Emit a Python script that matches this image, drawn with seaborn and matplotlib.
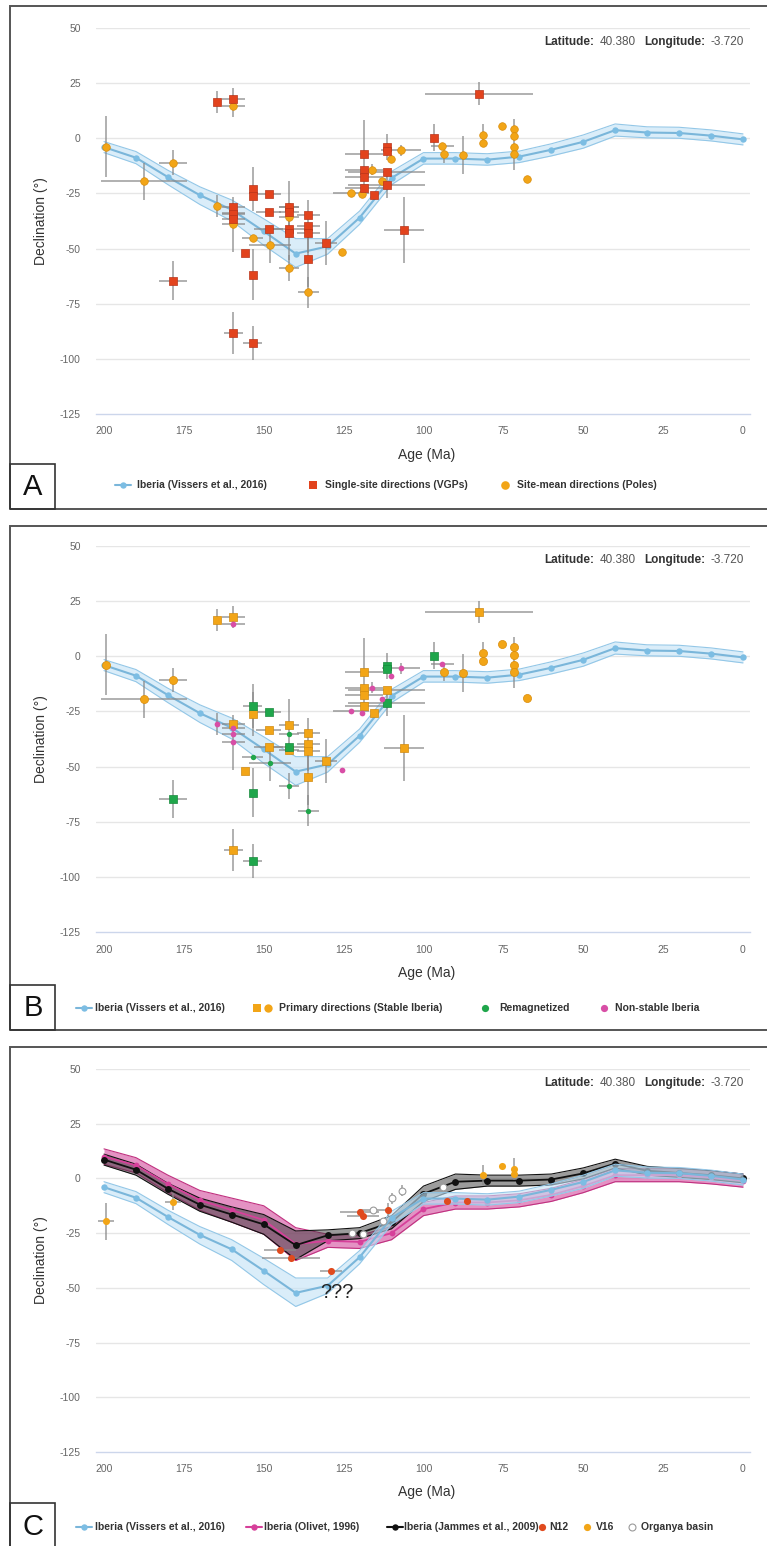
import matplotlib
matplotlib.use("Agg")
import pandas as pd
import matplotlib.pyplot as plt
import seaborn as sns
from matplotlib.lines import Line2D
from matplotlib.patches import Rectangle

# ---------------------------------------------------------------- curves
curve_age = [200, 190, 180, 170, 160, 150, 140, 130, 120, 110, 100,
             90, 80, 70, 60, 50, 40, 30, 20, 10, 0]

vissers_dec = [-4.0, -8.8, -17.6, -25.8, -32.4, -42.2, -52.3, -49.0, -36.0, -18.0, -9.2,
               -9.2, -9.7, -8.3, -5.2, -1.6, 3.7, 2.6, 2.4, 1.2, -0.5]
vissers_lo = [-6.5, -11.5, -21.0, -30.0, -37.5, -48.5, -58.5, -52.5, -39.0, -21.0, -11.7,
              -11.7, -12.2, -11.0, -8.0, -4.5, 1.0, 0.2, 0.0, -1.2, -3.0]
vissers_hi = [-1.5, -6.0, -14.5, -22.0, -28.0, -36.5, -45.5, -45.5, -33.0, -15.0, -6.5,
              -6.5, -7.0, -5.8, -2.5, 1.5, 6.5, 5.2, 5.0, 3.8, 2.0]

olivet_dec = [10.0, 6.0, -2.5, -10.0, -14.5, -19.0, -30.0, -28.5, -29.0, -25.0, -14.0,
              -11.0, -11.0, -10.0, -7.5, -3.5, 1.5, 1.5, 1.5, 0.5, -1.0]
olivet_half = [3.5, 3.5, 4.0, 4.5, 5.5, 6.5, 7.5, 3.0, 3.0, 3.0, 3.0,
               3.0, 3.0, 3.0, 3.0, 3.0, 3.0, 3.0, 3.0, 3.0, 3.0]

jammes_dec = [8.6, 4.0, -4.7, -12.0, -16.5, -21.0, -30.5, -26.0, -25.0, -20.0, -7.0,
              -1.5, -1.0, -1.0, -0.5, 2.3, 6.8, 3.5, 2.5, 1.5, 0.0]
jammes_half = [2.5, 2.5, 2.5, 3.0, 3.5, 4.5, 6.5, 2.5, 2.5, 3.0, 3.5,
               3.5, 2.5, 2.5, 2.5, 2.5, 2.0, 2.0, 2.0, 2.0, 2.0]

# ------------------------------------------- panel A: single-site VGPs
vgp_age = [164.5, 159.5, 159.5, 159.5, 159.5, 178.5, 153.5, 153.5, 153.5, 153.5,
           155.8, 159.5, 148.5, 148.5, 148.5, 142.1, 142.1, 142.1, 142.1, 136.0,
           136.0, 136.0, 136.0, 130.6, 118.6, 118.6, 118.6, 118.6, 115.6, 111.5,
           111.5, 111.5, 111.5, 106.2, 96.6, 82.6]
vgp_dec = [16.5, 17.7, -31.2, -34.2, -36.4, -64.6, -22.8, -26.3, -61.9, -92.7,
           -52.0, -88.2, -25.4, -33.4, -41.3, -31.2, -33.4, -41.0, -43.0, -35.0,
           -39.8, -43.0, -54.6, -47.3, -7.3, -14.2, -17.5, -22.4, -25.9, -4.0,
           -5.7, -15.3, -21.0, -41.7, 0.3, 20.3]
vgp_age_err = [0, 3.5, 3.5, 3.5, 3.5, 4.4, 0, 0, 0, 3,
               0, 3, 4, 4, 4.5, 3, 3, 5, 0, 3.5,
               3.5, 3.5, 0, 3.4, 6, 6, 6, 6, 0, 0,
               0, 12, 12, 6.3, 0, 17]
vgp_dec_err = [5, 5, 0, 0, 0, 8.8, 10, 0, 11.6, 7.6,
               0, 9.6, 0, 0, 0, 0, 0, 0, 12, 0,
               12, 0, 13, 10, 15.5, 0, 0, 0, 0, 6,
               0, 0, 6, 15, 6, 5]

# ------------------------------------------- panel A: site-mean poles
pole_age = [199.5, 187.5, 178.5, 164.5, 159.5, 159.5, 159.5, 153.5, 148.0, 142.1,
            142.1, 142.1, 136.0, 125.6, 122.7, 119.1, 116.1, 113.1, 110.2, 107.1,
            94.1, 93.5, 87.6, 81.5, 81.5, 75.4, 71.7, 71.7, 71.7, 71.7, 67.6]
pole_dec = [-3.9, -19.5, -11.0, -30.9, 14.5, -33.9, -39.0, -45.2, -48.5, -31.2,
            -35.7, -58.8, -69.9, -51.7, -24.8, -25.4, -14.2, -19.5, -9.2, -5.4,
            -3.6, -7.0, -7.7, 1.3, -2.0, 5.6, 4.1, 0.9, -3.9, -7.3, -18.6]
pole_age_err = [0, 13.4, 4.4, 0, 3.5, 3.5, 3.5, 3.2, 6.5, 3,
                3, 3, 3.3, 0, 5.5, 0, 0, 0, 0, 6.2,
                3.5, 0, 0, 0, 0, 0, 0, 0, 0, 0, 0]
pole_dec_err = [13.8, 8.3, 5.5, 5, 5, 0, 12.5, 0, 8, 12,
                0, 6, 7, 0, 0, 0, 2.5, 0, 0, 2.5,
                0, 4, 8.6, 5, 0, 0, 4.5, 0, 0, 7, 0]

# ------------------------------------------- panel B: primary (stable Iberia)
prim_sq_age = [164.5, 159.5, 159.5, 153.5, 155.8, 159.5, 148.5, 148.5, 142.1, 142.1,
               136.0, 136.0, 136.0, 136.0, 130.6, 118.6, 118.6, 118.6, 118.6, 115.6,
               111.5, 106.2, 82.6]
prim_sq_dec = [16.5, 17.7, -30.7, -26.3, -52.0, -87.9, -33.4, -41.3, -31.2, -42.5,
               -34.9, -39.8, -42.8, -54.6, -47.3, -7.3, -14.5, -17.6, -22.5, -25.9,
               -15.3, -41.7, 20.1]
prim_sq_age_err = [0, 3.5, 3.5, 0, 0, 3, 4, 4.5, 3, 3,
                   3.5, 3.5, 3.5, 0, 3.4, 6, 6, 6, 6, 0,
                   12, 6.3, 17]
prim_sq_dec_err = [5, 5, 0, 10, 0, 9.6, 0, 0, 12, 0,
                   0, 12, 0, 13, 10, 15.5, 0, 0, 0, 0,
                   0, 15, 5]

prim_ci_age = [199.5, 187.5, 178.5, 93.5, 87.6, 81.5, 81.5, 75.4, 71.7, 71.7, 71.7, 71.7, 67.6]
prim_ci_dec = [-3.9, -19.5, -10.8, -7.0, -7.7, 1.3, -2.0, 5.6, 4.4, 0.8, -4.0, -7.3, -18.8]
prim_ci_age_err = [0, 13.4, 4.4, 0, 0, 0, 0, 0, 0, 0, 0, 0, 0]
prim_ci_dec_err = [13.8, 8.3, 5.5, 4, 8.6, 5, 0, 0, 4.5, 0, 0, 7, 0]

# ------------------------------------------- panel B: remagnetized
remag_sq_age = [178.5, 153.5, 153.5, 153.5, 148.5, 142.1, 111.5, 111.5, 111.5, 96.6]
remag_sq_dec = [-64.7, -22.5, -61.8, -92.7, -25.4, -41.0, -4.4, -5.8, -21.0, 0.3]
remag_sq_age_err = [4.4, 3, 0, 3, 4, 5, 0, 0, 12, 0]
remag_sq_dec_err = [8.8, 10, 11, 7.6, 0, 0, 6, 0, 6, 6]

remag_ci_age = [153.5, 148.0, 142.1, 142.1, 136.0]
remag_ci_dec = [-45.5, -48.5, -35.4, -58.8, -70.0]
remag_ci_age_err = [3.2, 6.5, 3, 3, 3.3]
remag_ci_dec_err = [0, 8, 0, 6, 7]

# ------------------------------------------- panel B: non-stable Iberia
nonst_age = [159.5, 164.5, 159.5, 159.5, 159.5, 125.6, 122.7, 119.1, 116.1, 113.1,
             110.2, 107.1, 94.1]
nonst_dec = [14.6, -30.9, -32.7, -35.2, -39.0, -51.7, -24.8, -25.6, -14.2, -19.5,
             -8.9, -5.5, -3.6]
nonst_age_err = [3.5, 0, 3.5, 3.5, 3.5, 0, 5.5, 0, 0, 0, 0, 6, 3.5]
nonst_dec_err = [0, 5, 0, 0, 12.5, 0, 0, 0, 2.5, 0, 0, 2.5, 0]

# ------------------------------------------- panel C: other datasets
n12_age = [145.0, 141.5, 129.0, 120.0, 119.0, 111.0, 92.5, 86.5]
n12_dec = [-32.5, -36.5, -42.5, -15.2, -17.2, -14.3, -10.2, -10.2]
n12_age_err = [5, 9, 3.5, 6, 5, 0, 0, 0]
n12_dec_err = [0, 0, 0, 0, 0, 3, 0, 0]

v16_age = [199.5, 178.5, 81.5, 75.5, 71.7, 71.7]
v16_dec = [-19.6, -10.6, 1.5, 5.5, 4.5, 2.0]
v16_age_err = [2.5, 2.5, 0, 0, 0, 0]
v16_dec_err = [8.5, 4, 4.5, 0, 5, 0]

organya_age = [122.3, 118.8, 115.7, 112.7, 109.7, 106.7, 93.8]
organya_dec = [-25.0, -25.6, -14.5, -19.6, -9.0, -5.6, -4.1]
organya_age_err = [0, 0, 4.5, 0, 0, 0, 0]
organya_dec_err = [0, 0, 0, 0, 2.5, 2.5, 0]

y_ticks = [50, 25, 0, -25, -50, -75, -100, -125]
x_ticks = [200, 175, 150, 125, 100, 75, 50, 25, 0]

# ---------------------------------------------------------------- style
sns.set_theme(style="white")
plt.rcParams["font.family"] = ["Liberation Sans", "DejaVu Sans"]

W, H = 767, 1546
fig = plt.figure(figsize=(W / 100, H / 100), dpi=100)

BLUE = "#7cbde3"
RED = "#e2431d"
ORANGE = "#f2a517"
GREEN = "#1fa64b"
PINK = "#d84ea6"
ERR = "#8a8a8a"
LEG_FS = 7.5


def fxy(x, y):
    return x / W, 1 - y / H


def add_axes_px(left, top, right, bottom):
    return fig.add_axes([left / W, 1 - bottom / H, (right - left) / W, (bottom - top) / H])


def style_axes(ax):
    ax.set_xlim(202.5, -2.2)
    ax.set_ylim(-125, 50)
    ax.set_yticks(y_ticks)
    ax.set_xticks(x_ticks)
    ax.set_xticklabels([str(t) for t in x_ticks])
    ax.set_yticklabels([str(t) for t in y_ticks])
    ax.set_facecolor("none")
    ax.grid(False)
    for t in y_ticks[:-1]:
        ax.axhline(t, color="#e6e6e6", lw=1.0, zorder=0)
    for s in ["top", "right", "left"]:
        ax.spines[s].set_visible(False)
    ax.spines["bottom"].set_color("#ccd6eb")
    ax.spines["bottom"].set_linewidth(1.0)
    ax.tick_params(axis="x", length=5, width=1, color="#ccd6eb",
                   labelcolor="#666666", labelsize=7.5, pad=4)
    ax.tick_params(axis="y", length=0, labelcolor="#666666", labelsize=7.5, pad=11)
    ax.set_xlabel("Age (Ma)", fontsize=10, color="#333333")
    ax.set_ylabel("Declination (°)", fontsize=10, color="#333333")
    ax.xaxis.set_label_coords(0.505, -0.087)
    ax.yaxis.set_label_coords(-0.074, 0.5)
    # coordinates box
    t = ax.text(1 - 6 / 654, 1 - 14 / 386, "-3.720", transform=ax.transAxes,
                ha="right", va="center", fontsize=8.5, color="#555555")
    parts = [("Longitude:", "bold", "#333333", -4),
             ("40.380", "normal", "#555555", -6),
             ("Latitude:", "bold", "#333333", -4)]
    for txt, wt, col, off in parts:
        t = ax.annotate(txt, xy=(0, 0.5), xycoords=t, xytext=(off, 0),
                        textcoords="offset points", ha="right", va="center",
                        fontsize=8.5, fontweight=wt, color=col)


def draw_band(ax, lo, hi, fill, edge, alpha, z):
    ax.fill_between(curve_age, lo, hi, color=fill, alpha=alpha, lw=0, zorder=z)
    ax.plot(curve_age, lo, color=edge, lw=0.8, zorder=z + 0.05)
    ax.plot(curve_age, hi, color=edge, lw=0.8, zorder=z + 0.05)


def draw_vissers(ax, z=1.5):
    draw_band(ax, vissers_lo, vissers_hi, "#c4e2f6", "#93c7e7", 0.62, z)
    sns.lineplot(x=curve_age, y=vissers_dec, ax=ax, color="#7ab6da", lw=1.5,
                 marker="o", markersize=4.6, markeredgewidth=0,
                 markerfacecolor=BLUE, zorder=z + 0.2)


def draw_points(ax, age, dec, xerr, yerr, marker, size, color, ec, lw=0.5, z=4):
    df = pd.DataFrame({"age": age, "dec": dec, "xerr": xerr, "yerr": yerr})
    ax.errorbar(df["age"], df["dec"], xerr=df["xerr"], yerr=df["yerr"], fmt="none",
                ecolor=ERR, elinewidth=1.1, alpha=0.85, capsize=0, zorder=z - 1)
    sns.scatterplot(data=df, x="age", y="dec", ax=ax, marker=marker, s=size,
                    color=color, edgecolor=ec, linewidth=lw, zorder=z, legend=False)


def panel_frame(top, bottom, letter, letter_top, letter_y):
    fig.add_artist(Rectangle(fxy(10, bottom), (W + 30) / W, (bottom - top) / H,
                             transform=fig.transFigure, fill=False,
                             ec="#555555", lw=1.4))
    fig.add_artist(Rectangle(fxy(10, bottom), 45 / W, (bottom - letter_top) / H,
                             transform=fig.transFigure, fill=False,
                             ec="#333333", lw=1.2))
    fig.text(*fxy(33, letter_y), letter, ha="center", va="center",
             fontsize=21, color="#111111")


def leg_text(x, y, s):
    fig.text(*fxy(x, y), s, ha="left", va="center", fontsize=LEG_FS,
             fontweight="bold", color="#333333")


def leg_marker(x, y, marker, color, ms, ec=None, mew=0):
    fig.add_artist(Line2D([x / W], [1 - y / H], transform=fig.transFigure,
                          marker=marker, color=color, ms=ms, lw=0,
                          markeredgecolor=ec if ec else color, markeredgewidth=mew))


def leg_line(x, y, color, mcolor, ms=4.6):
    fig.add_artist(Line2D([(x - 8) / W, (x + 8) / W], [1 - y / H, 1 - y / H],
                          transform=fig.transFigure, color=color, lw=1.5))
    leg_marker(x, y, "o", mcolor, ms)


# ---------------------------------------------------------------- panel A
axA = add_axes_px(96, 28, 750, 414)
style_axes(axA)
draw_vissers(axA)
draw_points(axA, pole_age, pole_dec, pole_age_err, pole_dec_err, "o", 30, ORANGE, "#d98c0a", z=4)
draw_points(axA, vgp_age, vgp_dec, vgp_age_err, vgp_dec_err, "s", 29, RED, "#b8341a", z=4.5)
panel_frame(6, 509, "A", 464, 487)
yA = 485
leg_line(123, yA, "#7ab6da", BLUE)
leg_text(137, yA, "Iberia (Vissers et al., 2016)")
leg_marker(313, yA, "s", RED, 6.0)
leg_text(325, yA, "Single-site directions (VGPs)")
leg_marker(505, yA, "o", ORANGE, 6.2)
leg_text(517, yA, "Site-mean directions (Poles)")

# ---------------------------------------------------------------- panel B
axB = add_axes_px(96, 546, 750, 932)
style_axes(axB)
draw_vissers(axB)
draw_points(axB, prim_ci_age, prim_ci_dec, prim_ci_age_err, prim_ci_dec_err, "o", 34, ORANGE, "#d98c0a", z=4)
draw_points(axB, prim_sq_age, prim_sq_dec, prim_sq_age_err, prim_sq_dec_err, "s", 29, ORANGE, "#d08a10", z=4.2)
draw_points(axB, remag_sq_age, remag_sq_dec, remag_sq_age_err, remag_sq_dec_err, "s", 29, GREEN, "#178a3c", z=4.4)
draw_points(axB, remag_ci_age, remag_ci_dec, remag_ci_age_err, remag_ci_dec_err, "o", 15, GREEN, GREEN, lw=0, z=4.6)
draw_points(axB, nonst_age, nonst_dec, nonst_age_err, nonst_dec_err, "o", 17, PINK, PINK, lw=0, z=4.8)
panel_frame(526, 1030, "B", 985, 1008)
yB = 1008
leg_line(84, yB, "#7ab6da", BLUE)
leg_text(95, yB, "Iberia (Vissers et al., 2016)")
leg_marker(257, yB, "s", ORANGE, 6.0)
leg_marker(268, yB, "o", ORANGE, 6.0)
leg_text(279, yB, "Primary directions (Stable Iberia)")
leg_marker(485, yB, "o", GREEN, 5.2)
leg_text(499, yB, "Remagnetized")
leg_marker(604, yB, "o", PINK, 5.2)
leg_text(615, yB, "Non-stable Iberia")

# ---------------------------------------------------------------- panel C
axC = add_axes_px(96, 1069, 750, 1452)
style_axes(axC)
olivet_lo = [d - h for d, h in zip(olivet_dec, olivet_half)]
olivet_hi = [d + h for d, h in zip(olivet_dec, olivet_half)]
jammes_lo = [d - h for d, h in zip(jammes_dec, jammes_half)]
jammes_hi = [d + h for d, h in zip(jammes_dec, jammes_half)]
draw_band(axC, olivet_lo, olivet_hi, "#d4509f", "#c0307f", 0.62, 1.0)
draw_band(axC, jammes_lo, jammes_hi, "#3a3a3a", "#111111", 0.5, 1.2)
sns.lineplot(x=curve_age, y=olivet_dec, ax=axC, color="#d6409a", lw=1.3,
             marker="o", markersize=4.2, markeredgewidth=0, zorder=1.4)
sns.lineplot(x=curve_age, y=jammes_dec, ax=axC, color="#111111", lw=1.3,
             marker="o", markersize=5.0, markeredgewidth=0, zorder=1.45)
draw_vissers(axC, z=1.6)
draw_points(axC, organya_age, organya_dec, organya_age_err, organya_dec_err, "o", 24, "white", "#9a9a9a", lw=0.8, z=4)
draw_points(axC, n12_age, n12_dec, n12_age_err, n12_dec_err, "o", 26, "#e04a1e", "#e04a1e", lw=0, z=4.4)
draw_points(axC, v16_age, v16_dec, v16_age_err, v16_dec_err, "o", 26, ORANGE, ORANGE, lw=0, z=4.6)
axC.text(127.2, -52.0, "???", ha="center", va="center", fontsize=14.5, color="#222222", zorder=6)
panel_frame(1047, 1560, "C", 1503, 1527)
yC = 1527
leg_line(84, yC, "#7ab6da", BLUE)
leg_text(95, yC, "Iberia (Vissers et al., 2016)")
leg_line(254, yC, "#d6409a", "#d6409a")
leg_text(264, yC, "Iberia (Olivet, 1996)")
leg_line(395, yC, "#111111", "#111111")
leg_text(404, yC, "Iberia (Jammes et al., 2009)")
leg_marker(542, yC, "o", "#e04a1e", 5.2)
leg_text(549, yC, "N12")
leg_marker(587, yC, "o", ORANGE, 5.2)
leg_text(596, yC, "V16")
leg_marker(632, yC, "o", "white", 5.0, ec="#9a9a9a", mew=0.8)
leg_text(641, yC, "Organya basin")

fig.savefig("out.png", dpi=100)
